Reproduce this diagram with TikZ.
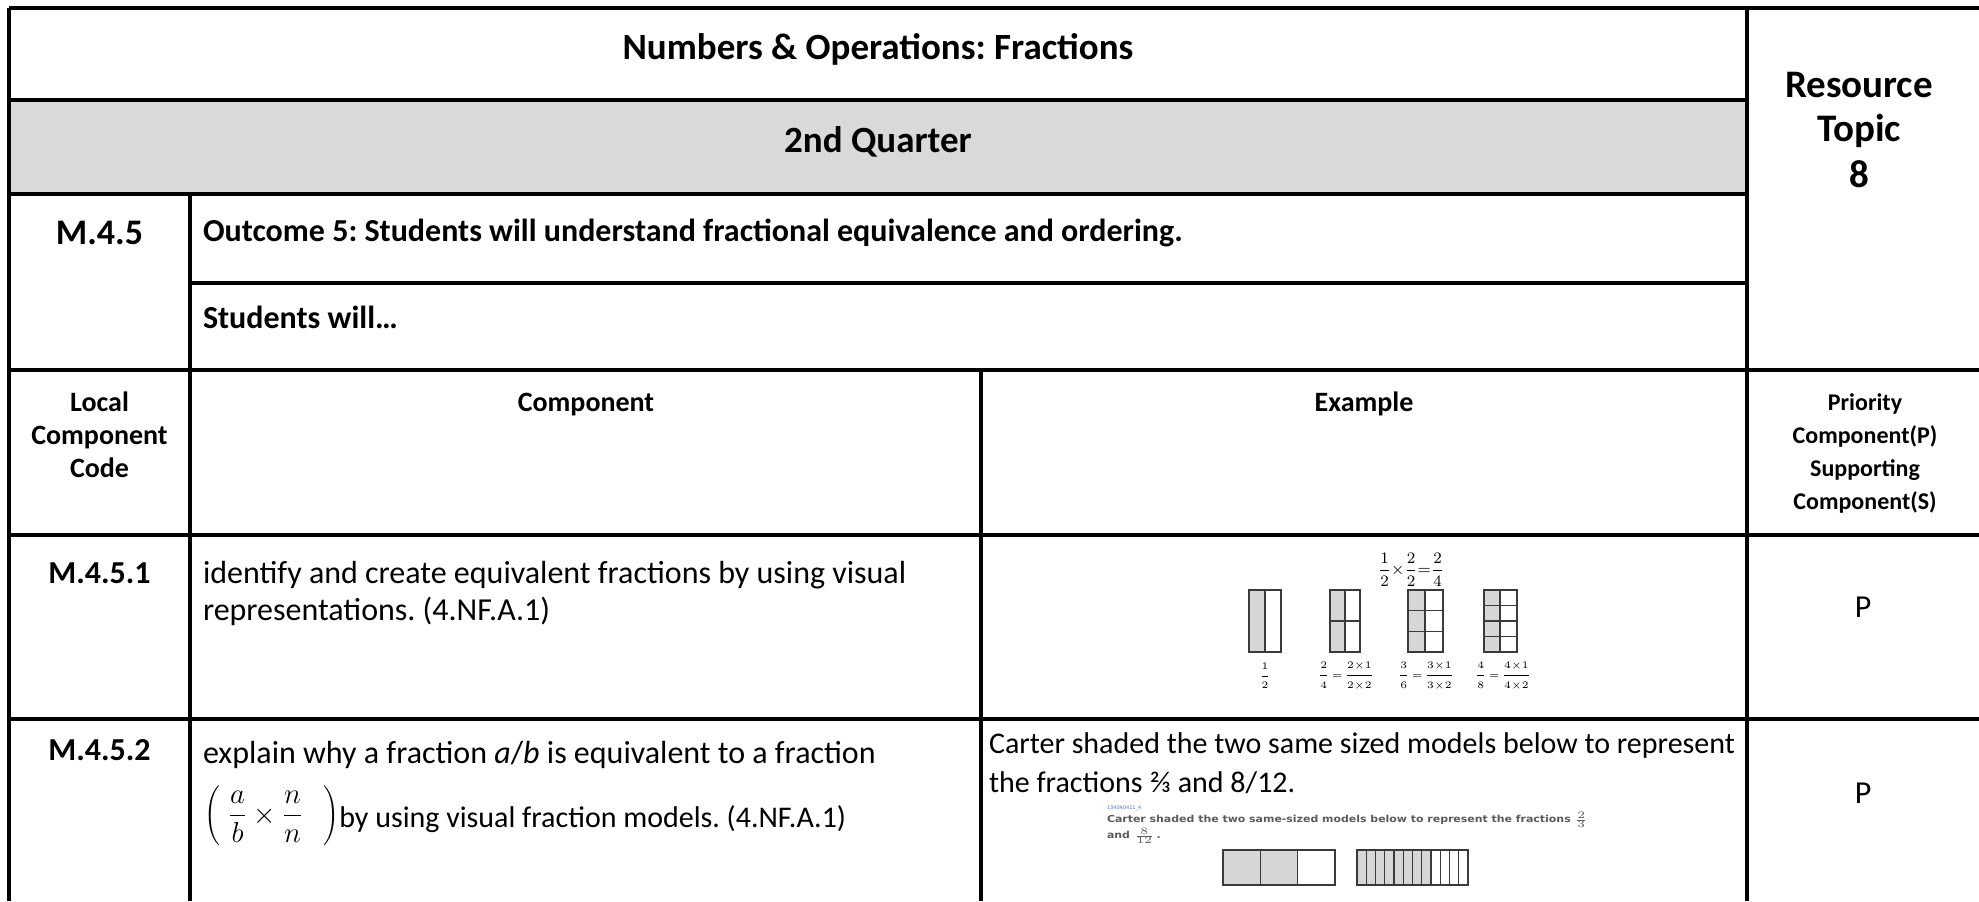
\documentclass[tikz,border=0pt]{standalone}
\usepackage{fontspec}
\usepackage{graphicx}
\setmainfont{Carlito}
\newfontfamily\smallsans{DejaVu Sans}
\definecolor{bandgray}{HTML}{D9D9D9}
\definecolor{figgray}{HTML}{D6D6D6}
\definecolor{figline}{HTML}{3A3A3A}
\definecolor{idblue}{HTML}{4472C4}
\definecolor{scantext}{HTML}{5A5A5A}
\frenchspacing
\begin{document}
\begin{tikzpicture}[x=0.5pt,y=-0.5pt,
  grid/.style={line width=1.65pt,black},
  every node/.style={inner sep=0pt,outer sep=0pt},
  ttl/.style={font=\fontsize{18.5}{22}\selectfont\bfseries,anchor=base},
  rsc/.style={font=\fontsize{19.5}{23}\selectfont\bfseries,anchor=base},
  bl/.style={font=\fontsize{16}{20}\selectfont\bfseries},
  hd/.style={font=\fontsize{14}{17}\selectfont\bfseries,anchor=base},
  hdsmall/.style={font=\fontsize{12}{15}\selectfont\bfseries,anchor=base},
  body/.style={font=\fontsize{16}{20}\selectfont,anchor=base west},
  exbody/.style={font=\fontsize{15}{19}\selectfont,anchor=base west},
  model/.style={draw=figline,line width=0.65pt},
  shade/.style={fill=figgray},
  tinyfrac/.style={font=\fontsize{5.5}{6}\selectfont},
  scan/.style={anchor=west,text=scantext,font=\smallsans\bfseries\fontsize{4.8}{5.5}\selectfont}
]
\useasboundingbox (0,0) rectangle (1979,901);
\fill[white] (0,0) rectangle (1979,901);
% gray band
\fill[bandgray] (9,100) rectangle (1747,194);
% grid lines
\coordinate (tl) at (9,8);
\coordinate (tr) at (1979,8);
\coordinate (bl0) at (9,901);
\draw[grid] (tl) -- (tr);
\draw[grid] (tl) -- (bl0);
\draw[grid] (1747,8) -- (1747,901);
\draw[grid] (9,100) -- (1747,100);
\draw[grid] (9,194) -- (1747,194);
\draw[grid] (190,283) -- (1747,283);
\draw[grid] (9,370) -- (1979,370);
\draw[grid] (9,535) -- (1979,535);
\draw[grid] (9,719) -- (1979,719);
\draw[grid] (190,194) -- (190,901);
\draw[grid] (981,370) -- (981,901);

% titles
\node[ttl] (title) at (878,59) {Numbers \& Operations: Fractions};
\node[ttl] (quarter) at (878,152) {2nd Quarter};
\node[rsc] (res1) at (1859,97) {Resource};
\node[rsc] (res2) at (1859,141) {Topic};
\node[rsc] (res3) at (1859,187) {8};
\node[font=\fontsize{18}{22}\selectfont\bfseries,anchor=base] (code) at (99.5,244) {M.4.5};
\node[bl,anchor=base west] (outcome) at (203,241) {Outcome 5: Students will understand fractional equivalence and ordering.};
\node[bl,anchor=base west] (will) at (203,328) {Students will…};

% header row
\node[hd] (h1a) at (99.5,411) {Local};
\node[hd] (h1b) at (99.5,444) {Component};
\node[hd] (h1c) at (99.5,477) {Code};
\node[hd] (h2) at (586,411) {Component};
\node[hd] (h3) at (1364,411) {Example};
\node[hdsmall] (h4a) at (1865,410) {Priority};
\node[hdsmall] (h4b) at (1865,443) {Component(P)};
\node[hdsmall] (h4c) at (1865,476) {Supporting};
\node[hdsmall] (h4d) at (1865,509) {Component(S)};

% row 1
\node[bl,anchor=base] (c1) at (99.5,583) {M.4.5.1};
\node[body] (t1a) at (203,583) {identify and create equivalent fractions by using visual};
\node[body] (t1b) at (203,620) {representations. (4.NF.A.1)};
\node[font=\fontsize{16}{20}\selectfont,anchor=base] (p1) at (1863,617) {P};

% row 2
\node[bl,anchor=base] (c2) at (99.5,760) {M.4.5.2};
\node[body] (t2a) at (203,763) {explain why a fraction \textit{a}/\textit{b} is equivalent to a fraction};
\node[anchor=base west,font=\fontsize{14}{16}\selectfont] (t2m) at (204,827) {\raisebox{2pt}{\smash{$\displaystyle\left(\hspace{4pt}\frac{a}{b}\hspace{3pt}{\times}\hspace{3pt}\frac{n}{n}\hspace{10pt}\right)$}}};
\node[font=\fontsize{15}{19}\selectfont,anchor=base west] (t2b) at (t2m.base east) {by using visual fraction models. (4.NF.A.1)};
\node[font=\fontsize{16}{20}\selectfont,anchor=base] (p2) at (1863,803) {P};

% example row 1 figure
\node (eq) at (1411,570) {\fontsize{8}{9}\selectfont$\displaystyle\frac{1}{2}{\times}\frac{2}{2}{=}\frac{2}{4}$};
\fill[shade] (1249,590) rectangle (1265,652);
\draw[model] (1249,590) rectangle (1281,652) (1265,590) -- (1265,652);
\fill[shade] (1330,590) rectangle (1345,652);
\draw[model] (1330,590) rectangle (1360,652) (1345,590) -- (1345,652) (1330,621) -- (1360,621);
\fill[shade] (1408,590) rectangle (1425,652);
\draw[model] (1408,590) rectangle (1443,652) (1425,590) -- (1425,652) (1408,610.7) -- (1443,610.7) (1408,631.3) -- (1443,631.3);
\fill[shade] (1484,590) rectangle (1500,652);
\draw[model] (1484,590) rectangle (1517,652) (1500,590) -- (1500,652) (1484,605.5) -- (1517,605.5) (1484,621) -- (1517,621) (1484,636.5) -- (1517,636.5);
\node[tinyfrac] (f1) at (1265,676) {$\displaystyle\frac{1}{2}$};
\node[tinyfrac] (f2) at (1346,676) {$\displaystyle\frac{2}{4}\,{=}\,\frac{2{\times}1}{2{\times}2}$};
\node[tinyfrac] (f3) at (1426,676) {$\displaystyle\frac{3}{6}\,{=}\,\frac{3{\times}1}{3{\times}2}$};
\node[tinyfrac] (f4) at (1503,676) {$\displaystyle\frac{4}{8}\,{=}\,\frac{4{\times}1}{4{\times}2}$};

% example row 2
\node[exbody] (e2a) at (989,753) {Carter shaded the two same sized models below to represent};
\node[exbody] (e2b) at (989,792) {the fractions ⅔ and 8/12.};
\node[anchor=west,text=idblue,font=\smallsans\fontsize{2.5}{3}\selectfont] (sid) at (1107,808) {134040411\_4};
\node[scan] (s1) at (1107,820) {\scalebox{1.14}[1]{Carter shaded the two same-sized models below to represent the fractions $\frac{2}{3}$}};
\node[scan] (s2) at (1107,836) {\scalebox{1.14}[1]{and $\frac{8}{12}$\,.}};
\fill[shade] (1223,850) rectangle (1297.7,885);
\draw[model] (1223,850) rectangle (1335,885) (1260.3,850) -- (1260.3,885) (1297.7,850) -- (1297.7,885);
\fill[shade] (1357,850) rectangle (1431,885);
\draw[model] (1357,850) rectangle (1468,885);
\foreach \i in {1,...,11} { \draw[model] ({1357+9.25*\i},850) -- ({1357+9.25*\i},885); }
\end{tikzpicture}
\end{document}
